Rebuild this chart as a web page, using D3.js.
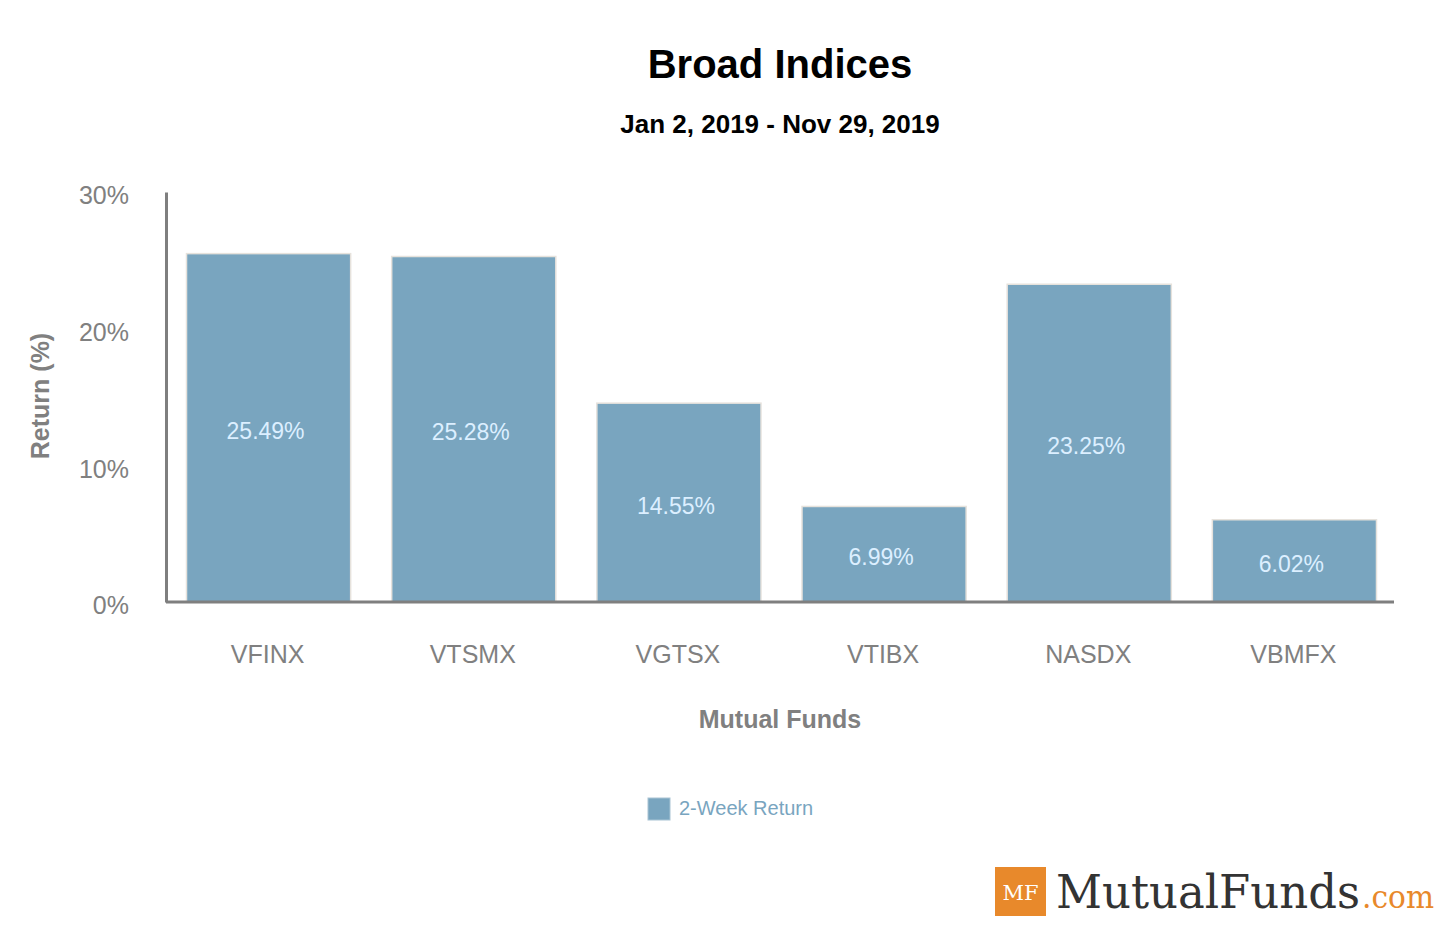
<!DOCTYPE html>
<html>
<head>
<meta charset="utf-8">
<script src="https://cdn.jsdelivr.net/npm/d3@7"></script>
<style>
  body { margin: 0; background: #fff; }
  svg { display: block; font-family: "Liberation Sans", Arial, sans-serif; }
</style>
</head>
<body>
<svg id="chart" width="1445" height="925"></svg>
<script>
const funds = ['VFINX', 'VTSMX', 'VGTSX', 'VTIBX', 'NASDX', 'VBMFX'];
const returns = [25.49, 25.28, 14.55, 6.99, 23.25, 6.02];
const yTicks = [0, 10, 20, 30];

const width = 1445;
const height = 925;
const margin = { top: 192, right: 48, bottom: 323, left: 166 };

const svg = d3.select('#chart');

const x = d3
  .scaleBand()
  .domain(funds)
  .range([margin.left, width - margin.right])
  .paddingInner(0.2)
  .paddingOuter(0.1);

const y = d3
  .scaleLinear()
  .domain([0, 30])
  .range([height - margin.bottom, margin.top]);

// title
svg.append('text')
  .attr('x', 780).attr('y', 78)
  .attr('text-anchor', 'middle')
  .attr('font-size', 40).attr('font-weight', 'bold')
  .attr('fill', '#000')
  .text('Broad Indices');

svg.append('text')
  .attr('x', 780).attr('y', 133)
  .attr('text-anchor', 'middle')
  .attr('font-size', 26).attr('font-weight', 'bold')
  .attr('fill', '#000')
  .text('Jan 2, 2019 - Nov 29, 2019');

// bars
svg.append('g')
  .selectAll('rect')
  .data(returns)
  .enter()
  .append('rect')
  .attr('x', (d, i) => x(funds[i]))
  .attr('y', (d) => y(d))
  .attr('width', x.bandwidth())
  .attr('height', (d) => y(0) - y(d))
  .attr('fill', '#79a5bf')
  .attr('stroke', '#e6e2dc')
  .attr('stroke-width', 1.5);

svg.append('g')
  .selectAll('text')
  .data(returns)
  .enter()
  .append('text')
  .attr('x', (d, i) => x(funds[i]) + x.bandwidth() / 2 - 3)
  .attr('y', (d) => (y(d) + y(0)) / 2 + 11)
  .attr('text-anchor', 'middle')
  .attr('font-size', 23)
  .attr('fill', '#dcefff')
  .text((d) => d.toFixed(2) + '%');

// y axis
const yAxis = svg.append('g')
  .attr('transform', `translate(${margin.left},0)`)
  .call(d3.axisLeft(y).tickValues(yTicks).tickSize(0).tickPadding(37).tickFormat((d) => d + '%'));
yAxis.select('.domain').attr('stroke', '#7f7f7f').attr('stroke-width', 3);
yAxis.selectAll('text')
  .attr('font-size', 25)
  .attr('fill', '#808080')
  .attr('font-family', '"Liberation Sans", Arial, sans-serif')
  .attr('dy', '0.47em');

// x axis
const xAxis = svg.append('g')
  .attr('transform', `translate(0,${y(0)})`)
  .call(d3.axisBottom(x).tickSize(0).tickPadding(43));
xAxis.select('.domain').attr('stroke', '#7f7f7f').attr('stroke-width', 3)
  .attr('d', `M${margin.left},0H${width - margin.right - 3}`);
xAxis.selectAll('text')
  .attr('font-size', 25)
  .attr('fill', '#808080')
  .attr('font-family', '"Liberation Sans", Arial, sans-serif')
  .attr('dx', -1);

// axis titles
svg.append('text')
  .attr('transform', 'translate(49,396) rotate(-90)')
  .attr('text-anchor', 'middle')
  .attr('font-size', 25).attr('font-weight', 'bold')
  .attr('fill', '#808080')
  .text('Return (%)');

svg.append('text')
  .attr('x', 780).attr('y', 728)
  .attr('text-anchor', 'middle')
  .attr('font-size', 25).attr('font-weight', 'bold')
  .attr('fill', '#808080')
  .text('Mutual Funds');

// legend
svg.append('rect')
  .attr('x', 648).attr('y', 798)
  .attr('width', 22).attr('height', 22)
  .attr('fill', '#79a5bf')
  .attr('stroke', '#a9c4d4').attr('stroke-width', 1);
svg.append('text')
  .attr('x', 679).attr('y', 815)
  .attr('font-size', 20)
  .attr('fill', '#79a5bf')
  .text('2-Week Return');

// logo
const logo = svg.append('g');
logo.append('rect')
  .attr('x', 995).attr('y', 867)
  .attr('width', 51).attr('height', 49)
  .attr('fill', '#e8892b');
logo.append('text')
  .attr('x', 1020.5).attr('y', 900)
  .attr('text-anchor', 'middle')
  .attr('font-family', '"DejaVu Serif", "Liberation Serif", serif')
  .attr('font-size', 21)
  .attr('fill', '#fff')
  .text('MF');
logo.append('text')
  .attr('x', 1056).attr('y', 908)
  .attr('font-family', '"DejaVu Serif", "Liberation Serif", serif')
  .attr('font-size', 46)
  .attr('fill', '#333')
  .attr('textLength', 304)
  .attr('lengthAdjust', 'spacingAndGlyphs')
  .text('MutualFunds');
logo.append('text')
  .attr('x', 1362).attr('y', 908)
  .attr('font-family', '"DejaVu Serif", "Liberation Serif", serif')
  .attr('font-size', 31)
  .attr('fill', '#e8892b')
  .attr('textLength', 72)
  .attr('lengthAdjust', 'spacingAndGlyphs')
  .text('.com');
</script>
</body>
</html>
